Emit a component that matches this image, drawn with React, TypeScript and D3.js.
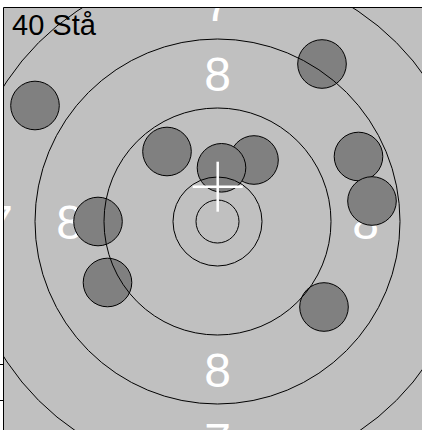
import React from "react";
import * as d3 from "d3";

// Target geometry (target units, centre = 0, y up)
const ringRadii = [21.5, 44.5, 113.5, 182.5, 253];
const ringLabels = ["8", "7"];
const ringLabelRadii = [148, 218];
const labelDirections = [
  [0, 1],
  [0, -1],
  [-1, 0],
  [1, 0],
];

// Shots (target units)
const shotX = [-182.5, -50.5, 36.5, 4, 104.5, 141, 154.5, 106.5, -119.5, -110];
const shotY = [116, 70, 61.5, 53.7, 157.5, 65, 20.5, -85.5, 0, -61];
const shotRadius = 24.3;

// Mean point of impact marker
const crossX = [0.2];
const crossY = [34.8];
const crossHalf = 25;

// y-axis ticks visible at left
const yTicks = [-142, -178];

const title = "40 Stå";

const W = 422;
const H = 430;
const left = 4;
const top = 8;

export default function App() {
  React.useEffect(() => {
    document.body.style.margin = "0";
  }, []);

  const x = d3.scaleLinear().domain([-213.5, 204.5]).range([left, W]);
  const y = d3.scaleLinear().domain([213.5, -208.5]).range([top, H]);
  const k = x(1) - x(0);
  const cx = x(0);
  const cy = y(0);

  const shots = shotX.map((v, i) => ({ x: v, y: shotY[i] }));

  return (
    <svg
      width={W}
      height={H}
      style={{ position: "absolute", left: 0, top: 0, display: "block" }}
      fontFamily="'Liberation Sans', Arial, Helvetica, sans-serif"
    >
      <defs>
        <clipPath id="plot">
          <rect x={left} y={top} width={W - left} height={H - top} />
        </clipPath>
      </defs>
      <rect x={0} y={0} width={W} height={H} fill="#ffffff" />
      <g clipPath="url(#plot)">
        <rect x={left} y={top} width={W - left} height={H - top} fill="#c0c0c0" />
        {ringLabels.map((lab, i) =>
          labelDirections.map(([dx, dy], j) => (
            <text
              key={`${i}-${j}`}
              x={x(dx * ringLabelRadii[i])}
              y={y(dy * ringLabelRadii[i])}
              dy="0.36em"
              textAnchor="middle"
              fontSize={48}
              fill="#ffffff"
            >
              {lab}
            </text>
          ))
        )}
        {shots.map((s, i) => (
          <circle
            key={i}
            cx={x(s.x)}
            cy={y(s.y)}
            r={shotRadius * k}
            fill="#808080"
            stroke="#000000"
            strokeWidth={1}
          />
        ))}
        {ringRadii.map((r, i) => (
          <circle
            key={i}
            cx={cx}
            cy={cy}
            r={r * k}
            fill="none"
            stroke="#000000"
            strokeWidth={1}
          />
        ))}
        {crossX.map((v, i) => (
          <g key={i} stroke="#ffffff" strokeWidth={2.5}>
            <line
              x1={x(v - crossHalf)}
              x2={x(v + crossHalf)}
              y1={y(crossY[i])}
              y2={y(crossY[i])}
            />
            <line
              x1={x(v)}
              x2={x(v)}
              y1={y(crossY[i] - crossHalf)}
              y2={y(crossY[i] + crossHalf)}
            />
          </g>
        ))}
      </g>
      <line x1={3.5} x2={3.5} y1={7.5} y2={H} stroke="#000000" strokeWidth={1} />
      <line x1={3.5} x2={W} y1={7.5} y2={7.5} stroke="#000000" strokeWidth={1} />
      {yTicks.map((t, i) => (
        <line
          key={i}
          x1={0}
          x2={4}
          y1={Math.round(y(t)) + 0.5}
          y2={Math.round(y(t)) + 0.5}
          stroke="#000000"
          strokeWidth={1}
        />
      ))}
      <text x={12} y={35} fontSize={29} fill="#000000">
        {title}
      </text>
    </svg>
  );
}
